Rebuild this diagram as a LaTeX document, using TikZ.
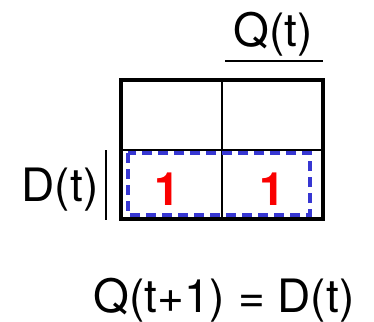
\documentclass[tikz,border=0pt]{standalone}
\usepackage{fontspec}
\setmainfont{TeX Gyre Heros}
\usepackage{xcolor}
\definecolor{groupblue}{RGB}{55,55,210}
\definecolor{onered}{RGB}{250,0,0}

\begin{document}
\begin{tikzpicture}[x=1pt, y=-1pt, font=\fontsize{46}{50}\selectfont]

  \useasboundingbox (0,0) rectangle (374,321);

  % 外框与分格
  \draw[line width=4.5pt] (121,80) rectangle (323,219);
  \draw[line width=1.6pt] (222,80) -- (222,219);
  \draw[line width=1.6pt] (121,150) -- (323,150);

  % 变量标注
  \node[anchor=base] (qlab) at (273,47) {Q(t)};
  \draw[line width=1.6pt] (225,61) -- (323,61);
  \node[anchor=base] (dlab) at (60,201) {D(t)};
  \draw[line width=1.6pt] (106,150) -- (106,220);

  % 卡诺图中的 1
  \foreach \x/\n in {167/one0, 272/one1}{
    \node[anchor=base, text=onered, font=\fontsize{46}{50}\selectfont\bfseries]
      (\n) at (\x,205) {1};
  }

  % 圈组：虚线框
  \draw[groupblue, line width=3.4pt, dash pattern=on 10pt off 6pt]
    (128,153) rectangle (310,215);

  % 化简结果
  \node[anchor=base] (eq) at (224,312) {Q(t+1) = D(t)};

\end{tikzpicture}
\end{document}
